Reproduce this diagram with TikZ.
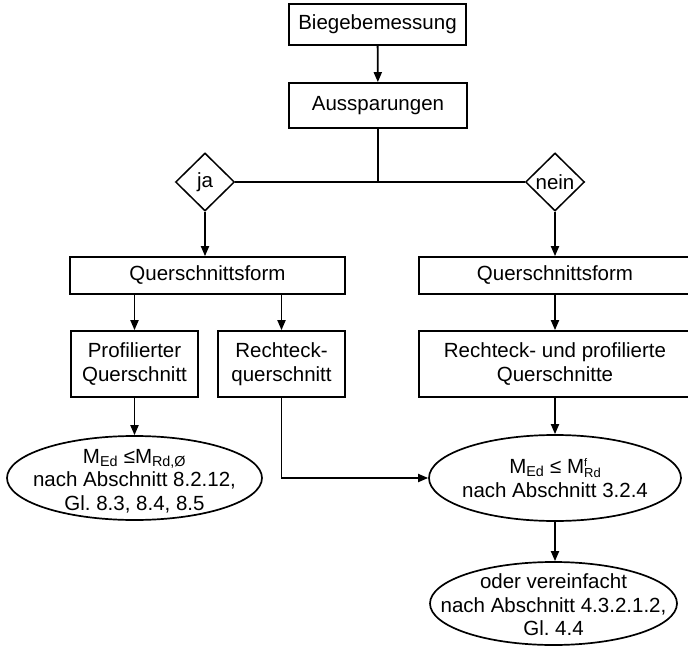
\documentclass[tikz,border=0pt]{standalone}
\usepackage{fontspec}
\setmainfont{Liberation Sans}
\usetikzlibrary{arrows.meta,shapes.geometric}
% stacked super- and subscript, as in M^f_Rd
\newcommand{\supsubstack}[2]{\rlap{\raisebox{7pt}{\fontsize{11}{11}\selectfont #1}}\raisebox{-4pt}{\fontsize{13}{13}\selectfont #2}}
\begin{document}
\frenchspacing
\begin{tikzpicture}[x=1pt,y=-1pt,
  every node/.style={font=\fontsize{20.5}{23.5}\selectfont, inner sep=0pt},
  box/.style={draw, line width=1.7pt, rectangle, align=center},
  dec/.style={draw, line width=1.5pt, diamond, minimum width=59pt, minimum height=58pt},
  ell/.style={draw, line width=1.7pt, ellipse},
  txt/.style={align=center},
  link/.style={line width=1.8pt},
  arr/.style={line width=1.8pt, -{Triangle[length=10pt,width=8pt]}}]
\useasboundingbox (0,0) rectangle (688,650);

% top of the chart
\node[box, minimum width=177pt, minimum height=41pt] (bieg) at (377.5,24.5) {Biegebemessung};
\node[box, minimum width=178pt, minimum height=45pt] (auss) at (378,105.5) {Aussparungen};

% decisions
\node[dec] (ja) at (205,182) {ja};
\node[dec] (nein) at (555,182) {nein};

% cross-section boxes
\node[box, minimum width=275pt, minimum height=37pt] (qfL) at (207.5,275.5) {Querschnittsform};
\node[box, minimum width=281pt, minimum height=37pt] (qfR) at (559.5,275.5) {\hspace*{-9pt}Querschnittsform};
\node[box, minimum width=127pt, minimum height=66pt] (prof) at (134.5,364) {Profilierter\\Querschnitt};
\node[box, minimum width=127pt, minimum height=66pt] (rq) at (281.5,364) {Rechteck-\\querschnitt};
\node[box, minimum width=281pt, minimum height=66pt] (rp) at (559.5,364) {\hspace*{-9pt}Rechteck- und profilierte\\\hspace*{-9pt}Querschnitte};

% verification ellipses (outline and text kept as separate nodes)
\node[ell, minimum width=255pt, minimum height=84pt] (ellL) at (134.5,478) {};
\node[txt] (ellLt) at (134.5,481)
  {M\textsubscript{Ed} ≤M\textsubscript{Rd,Ø}\\nach Abschnitt 8.2.12,\\Gl. 8.3, 8.4, 8.5};
\node[ell, minimum width=252pt, minimum height=86pt] (ellR) at (555,478) {};
\node[txt] (ellRt) at (555,478)
  {M\textsubscript{Ed} ≤ M\supsubstack{f}{Rd}\\nach Abschnitt 3.2.4};
\node[ell, minimum width=247pt, minimum height=83pt] (ellB) at (553.5,603.5) {};
\node[txt] (ellBt) at (553.5,605)
  {oder vereinfacht\\nach Abschnitt 4.3.2.1.2,\\Gl. 4.4};

% connectors
\draw[arr] (bieg) -- (auss);
\draw[link] (auss.south) -- (auss.south |- ja.east);
\draw[link] (ja.east) -- (nein.west);
\draw[arr] (ja.south) -- (ja.south |- qfL.north);
\draw[arr] (nein.south) -- (nein.south |- qfR.north);
\draw[arr] (prof.north |- qfL.south) -- (prof.north);
\draw[arr] (rq.north |- qfL.south) -- (rq.north);
\draw[arr] (nein.south |- qfR.south) -- (nein.south |- rp.north);
\draw[arr] (prof.south) -- (ellL.north);
\draw[arr] (rq.south) |- (ellR.west);
\draw[arr] (ellR.north |- rp.south) -- (ellR.north);
\draw[arr] (ellR.south) -- (ellR.south |- ellB.north);
\end{tikzpicture}
\end{document}
